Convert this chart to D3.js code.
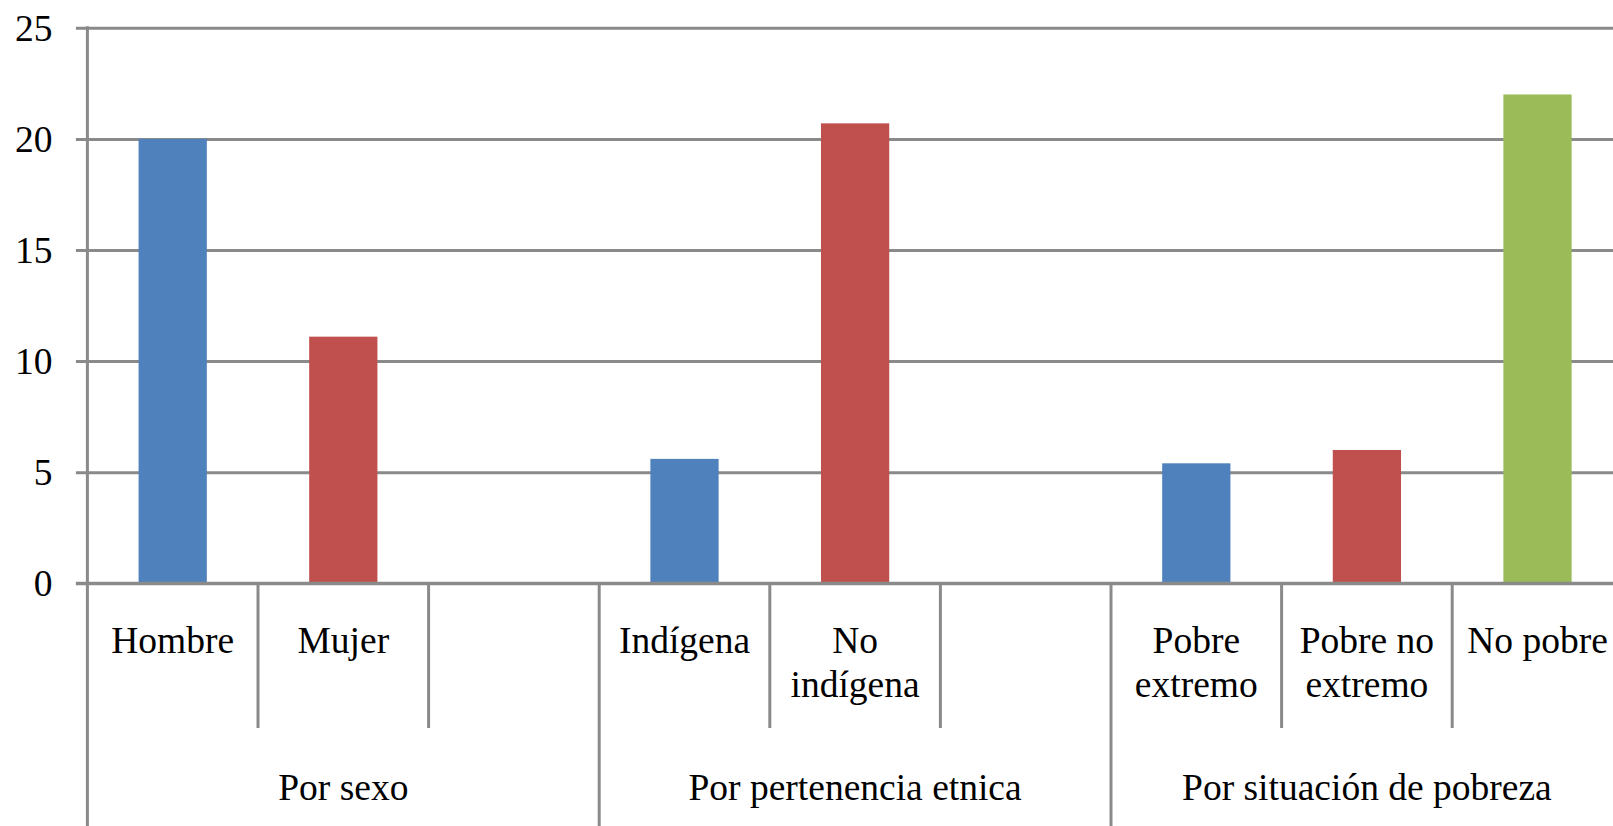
<!DOCTYPE html>
<html>
<head>
<meta charset="utf-8">
<script src="https://cdn.jsdelivr.net/npm/d3@7/dist/d3.min.js"></script>
<style>
  html, body { margin: 0; padding: 0; background: #fff; }
  svg { display: block; }
  text { font-family: "Liberation Serif", "Times New Roman", serif; fill: #000; }
</style>
</head>
<body>
<svg id="chart" width="1613" height="826"></svg>
<script>
// ---- data ----
const categories = ["Hombre", "Mujer", "", "Indígena", "No\nindígena", "", "Pobre\nextremo", "Pobre no\nextremo", "No pobre"];
const values     = [20.0, 11.1, null, 5.6, 20.7, null, 5.4, 6.0, 22.0];
const seriesIdx  = [0, 1, null, 0, 1, null, 0, 1, 2];
const groups     = ["Por sexo", "Por pertenencia etnica", "Por situación de pobreza"];
const groupSize  = 3;
const yTicks     = [0, 5, 10, 15, 20, 25];
const seriesColors = ["#4F81BD", "#C0504D", "#9BBB59"];

// ---- layout ----
const W = 1613, H = 826;
const x0 = 87.4, x1 = 1622.8;   // plot extends past right edge (cropped like reference)
const yTop = 27.8, yBot = 583.3;
const fontSize = 37.5;
const gridColor = "#8a8a8a";

const svg = d3.select("#chart");

const x = d3.scaleBand()
  .domain(d3.range(categories.length))
  .range([x0, x1])
  .paddingInner(0.6)
  .paddingOuter(0.3);

const y = d3.scaleLinear().domain([0, 25]).range([yBot, yTop]);

// gridlines + y axis ticks
const yAxis = d3.axisLeft(y)
  .tickValues(yTicks)
  .tickSizeInner(-(x1 - x0))
  .tickSizeOuter(0)
  .tickFormat(d3.format("d"));

const gy = svg.append("g").attr("transform", `translate(${x0},0)`).call(yAxis);
gy.select(".domain").remove();
gy.selectAll(".tick line")
  .attr("x1", -11.5)
  .attr("x2", x1 - x0)
  .attr("stroke", gridColor)
  .attr("stroke-width", 3);
gy.selectAll(".tick text")
  .attr("x", 52.5 - x0)
  .attr("dy", null)
  .attr("y", fontSize * 0.33)
  .attr("text-anchor", "end")
  .style("font-size", fontSize + "px")
  .style("font-family", "'Liberation Serif', serif")
  .attr("fill", "#000");

// bars
const barData = categories.map((c, i) => ({ i, v: values[i], s: seriesIdx[i] })).filter(d => d.v != null);
svg.append("g").selectAll("rect")
  .data(barData)
  .join("rect")
  .attr("x", d => x(d.i))
  .attr("width", x.bandwidth())
  .attr("y", d => y(d.v))
  .attr("height", d => y(0) - y(d.v))
  .attr("fill", d => seriesColors[d.s]);

// redraw the zero line on top of bars
svg.append("line")
  .attr("x1", x0 - 11.5).attr("x2", x1)
  .attr("y1", y(0)).attr("y2", y(0))
  .attr("stroke", gridColor).attr("stroke-width", 3);

// vertical axis line
svg.append("line")
  .attr("x1", x0).attr("x2", x0)
  .attr("y1", yTop - 1.5).attr("y2", H)
  .attr("stroke", gridColor).attr("stroke-width", 3);

// category separators
const step = x.step();
const boundaries = d3.range(1, categories.length + 1).map(k => x0 + k * step);
svg.append("g").selectAll("line")
  .data(boundaries)
  .join("line")
  .attr("x1", d => d).attr("x2", d => d)
  .attr("y1", y(0))
  .attr("y2", (d, k) => ((k + 1) % groupSize === 0) ? H : 728)
  .attr("stroke", gridColor).attr("stroke-width", 3);

// category labels
const catG = svg.append("g");
categories.forEach((c, i) => {
  if (!c) return;
  const cx = x(i) + x.bandwidth() / 2;
  const t = catG.append("text")
    .attr("text-anchor", "middle")
    .style("font-size", fontSize + "px");
  c.split("\n").forEach((line, li) => {
    t.append("tspan").attr("x", cx).attr("y", 653.3 + li * 43.4).text(line);
  });
});

// group labels
svg.append("g").selectAll("text")
  .data(groups)
  .join("text")
  .attr("x", (d, g) => x0 + (g + 0.5) * groupSize * step)
  .attr("y", 800)
  .attr("text-anchor", "middle")
  .style("font-size", fontSize + "px")
  .text(d => d);
</script>
</body>
</html>
